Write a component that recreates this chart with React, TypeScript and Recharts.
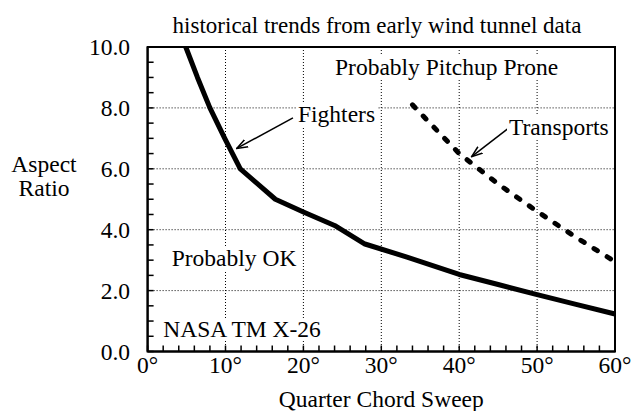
import React from 'react';
import { LineChart, Line, XAxis, YAxis, CartesianGrid, ReferenceLine, ReferenceArea } from 'recharts';

// fighters trend (quarter chord sweep in degrees, aspect ratio)
const fighterSweep = [4.9, 6.4, 8, 9.9, 11.9, 16.4, 20, 24, 27.9, 33.3, 40, 45, 50, 55, 60];
const fighterAR = [10, 9, 8, 7, 6, 5, 4.58, 4.14, 3.53, 3.1, 2.53, 2.2, 1.87, 1.55, 1.23];

// transports trend
const transportSweep = [34, 40, 45, 50, 55, 60];
const transportAR = [8.1, 6.5, 5.5, 4.6, 3.75, 2.95];

const sweepTicks = [0, 2, 4, 6, 8, 10, 12, 14, 16, 18, 20, 22, 24, 26, 28, 30, 32, 34, 36, 38, 40, 42, 44, 46, 48, 50, 52, 54, 56, 58, 60];
const arTicks = [0, 0.5, 1, 1.5, 2, 2.5, 3, 3.5, 4, 4.5, 5, 5.5, 6, 6.5, 7, 7.5, 8, 8.5, 9, 9.5, 10];
const gridSweep = [10, 20, 30, 40, 50];
const gridAR = [2, 4, 6, 8];

// annotation arrows: [from, to] in data units
const fighterArrow = [{ x: 18.66, y: 7.67 }, { x: 11.44, y: 6.67 }];
const transportArrow = [{ x: 46.3, y: 7.33 }, { x: 41.6, y: 6.4 }];

const fighters = fighterSweep.map((s, i) => ({ sweep: s, ar: fighterAR[i] }));
const transports = transportSweep.map((s, i) => ({ sweep: s, ar: transportAR[i] }));

const FONT = '"Liberation Serif", "Times New Roman", serif';
const SIZE = 23.5;

const Note = ({ text, left, baseline }: { text: string; left: number; baseline: number }) => (
    <span style={{
        position: 'absolute', left: left - 2, top: baseline - 0.8375 * SIZE, fontSize: SIZE, lineHeight: 1,
        whiteSpace: 'nowrap', background: '#fff', padding: '0 2px', color: '#000'
    }}>{text}</span>
);

const arrowShape = (p: any) => (
    <line x1={p.x1} y1={p.y1} x2={p.x2} y2={p.y2} stroke="#000" strokeWidth={1.5} markerEnd="url(#arrowHead)" />
);

const App: React.FC = () => {
    return (
        <div style={{ position: 'absolute', left: 0, top: 0, width: 634, height: 411, fontFamily: FONT, background: '#fff' }}>
            <svg width={0} height={0} style={{ position: 'absolute' }}>
                <defs>
                    <marker id="arrowHead" viewBox="0 0 12 10" refX={11} refY={5} markerWidth={12} markerHeight={10}
                        orient="auto" markerUnits="userSpaceOnUse">
                        <path d="M0,1 L11,5 L0,9" fill="none" stroke="#000" strokeWidth={1.5} />
                    </marker>
                </defs>
            </svg>
            <LineChart width={634} height={411} margin={{ top: 47, right: 19, bottom: 0, left: 0 }} style={{ fontFamily: FONT }}>
                <CartesianGrid verticalValues={gridSweep} horizontalValues={gridAR} stroke="#000" strokeDasharray="1 2" />
                <XAxis type="number" dataKey="sweep" domain={[0, 60]} ticks={sweepTicks} interval={0} height={59.5}
                    tickFormatter={(v: number) => (v % 10 === 0 ? `${v}°` : '')}
                    tickSize={-6} tickMargin={10.4} tickLine={{ stroke: '#000', strokeWidth: 1.5 }}
                    axisLine={{ stroke: '#000', strokeWidth: 2 }}
                    tick={{ fill: '#000', fontSize: SIZE, fontFamily: FONT }}
                    label={{ value: 'Quarter Chord Sweep', position: 'insideBottom', offset: 4, fill: '#000', fontSize: SIZE, fontFamily: FONT }} />
                <YAxis type="number" dataKey="ar" domain={[0, 10]} ticks={arTicks} interval={0} width={147.6}
                    tickFormatter={(v: number) => (v % 2 === 0 ? v.toFixed(1) : '')}
                    tickSize={-6} tickMargin={23.6} tickLine={{ stroke: '#000', strokeWidth: 1.5 }}
                    axisLine={{ stroke: '#000', strokeWidth: 2 }}
                    tick={{ fill: '#000', fontSize: SIZE, fontFamily: FONT }} />
                <ReferenceArea x1={0} x2={60} y1={0} y2={10} fill="none" fillOpacity={0} stroke="#000" strokeWidth={2} />
                <Line data={fighters} dataKey="ar" type="linear" stroke="#000" strokeWidth={5} dot={false}
                    strokeLinejoin="round" isAnimationActive={false} />
                <Line data={transports} dataKey="ar" type="linear" stroke="#000" strokeWidth={5} dot={false}
                    strokeDasharray="4 11.5" strokeLinecap="round" isAnimationActive={false} />
                <ReferenceLine segment={fighterArrow} shape={arrowShape} />
                <ReferenceLine segment={transportArrow} shape={arrowShape} />
            </LineChart>
            <div style={{ position: 'absolute', left: 0, width: 754, top: 33 - 0.8375 * 23, fontSize: 23, lineHeight: 1, textAlign: 'center', color: '#000' }}>
                historical trends from early wind tunnel data
            </div>
            <div style={{ position: 'absolute', left: 0, width: 88, top: 173 - 0.8375 * SIZE, fontSize: SIZE, lineHeight: '23.7px', textAlign: 'center', color: '#000' }}>
                Aspect<br />Ratio
            </div>
            <Note text="Probably Pitchup Prone" left={335} baseline={76} />
            <Note text="Fighters" left={298} baseline={123} />
            <Note text="Transports" left={509} baseline={136} />
            <Note text="Probably OK" left={171.7} baseline={266.7} />
            <Note text="NASA TM X-26" left={163.3} baseline={337.3} />
        </div>
    );
};

export default App;
